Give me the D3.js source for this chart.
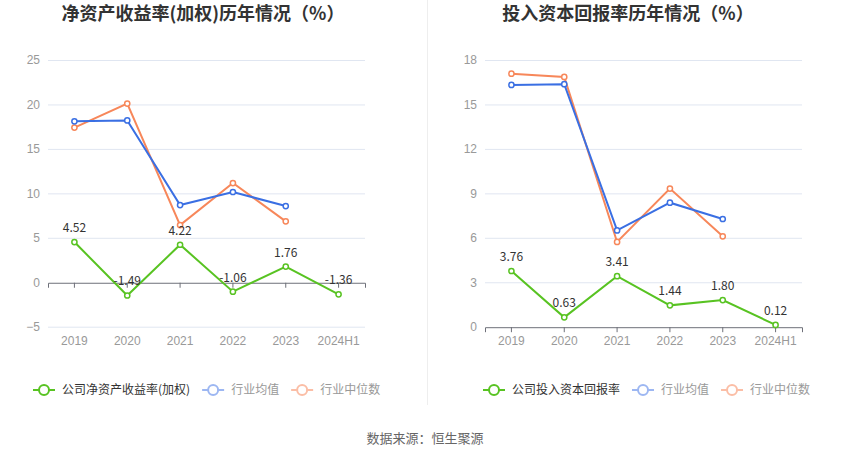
<!DOCTYPE html>
<html>
<head>
<meta charset="utf-8">
<script src="https://cdn.jsdelivr.net/npm/d3@7"></script>
<style>
  body { margin: 0; background: #fff; }
  svg { font-family: "Noto Sans CJK SC", "Noto Sans", sans-serif; }
</style>
</head>
<body>
<div id="chart"></div>
<script>
// categories shared by both panels
const years = ["2019", "2020", "2021", "2022", "2023", "2024H1"];

// left panel: 净资产收益率(加权)
const roeCompany = [4.52, -1.49, 4.22, -1.06, 1.76, -1.36];
const roeAvg = [18.1, 18.2, 8.68, 10.15, 8.57];
const roeMedian = [17.4, 20.1, 6.43, 11.16, 6.85];
const roeTicks = [-5, 0, 5, 10, 15, 20, 25];

// right panel: 投入资本回报率
const roicCompany = [3.76, 0.63, 3.41, 1.44, 1.80, 0.12];
const roicAvg = [16.32, 16.37, 6.5, 8.37, 7.27];
const roicMedian = [17.08, 16.86, 5.72, 9.32, 6.1];
const roicTicks = [0, 3, 6, 9, 12, 15, 18];

const colors = {green: "#58c322", blue: "#3a6fe3", orange: "#f7875a"};
const fadedColors = {blue: "#9db7f2", orange: "#fbbea6"};

const width = 850, height = 459;
const svg = d3.select("#chart").append("svg")
    .attr("width", width)
    .attr("height", height);

// divider between the two panels
svg.append("line")
    .attr("x1", 427.5).attr("x2", 427.5)
    .attr("y1", 0).attr("y2", 405)
    .attr("stroke", "#eeeeee");

// source note
svg.append("text")
    .attr("x", 425).attr("y", 443)
    .attr("text-anchor", "middle")
    .attr("font-size", 13)
    .attr("fill", "#666")
    .text("数据来源：恒生聚源");

function drawPanel(opt) {
    let g = svg.append("g");
    let top = 60, bottom = 326.7;

    let x = d3.scaleBand()
        .domain(years)
        .range([opt.left, opt.right]);

    let y = d3.scaleLinear()
        .domain([opt.ticks[0], opt.ticks[opt.ticks.length - 1]])
        .range([bottom, top]);

    // title
    g.append("text")
        .attr("x", opt.titleX).attr("y", 20)
        .attr("text-anchor", "middle")
        .attr("font-size", 18)
        .attr("font-weight", "bold")
        .attr("fill", "#333")
        .text(opt.title);

    // grid lines
    g.selectAll(".grid")
        .data(opt.ticks.filter(t => t !== 0))
        .enter()
        .append("line")
        .attr("x1", opt.left).attr("x2", opt.right)
        .attr("y1", d => y(d) + 0.5).attr("y2", d => y(d) + 0.5)
        .attr("stroke", "#e0e6f1");

    // y axis labels
    let yAxis = g.append("g")
        .attr("transform", "translate(" + (opt.left - 8) + ",0)")
        .call(d3.axisLeft(y).tickValues(opt.ticks).tickSize(0).tickPadding(0));
    yAxis.select(".domain").remove();
    yAxis.selectAll("text").attr("fill", "#999").attr("font-size", 12)
        .style("font-family", "inherit");

    // zero line with ticks
    let zeroAxis = g.append("g")
        .attr("transform", "translate(0," + (y(0) + 0.5) + ")")
        .call(d3.axisBottom(x).tickSize(5).tickFormat(""));
    zeroAxis.select(".domain").attr("stroke", "#6e7079");
    zeroAxis.selectAll(".tick line").attr("stroke", "#6e7079");

    // x labels at the bottom
    let xAxis = g.append("g")
        .attr("transform", "translate(0," + (bottom + 7) + ")")
        .call(d3.axisBottom(x).tickSize(0).tickPadding(0));
    xAxis.select(".domain").remove();
    xAxis.selectAll("text").attr("fill", "#999").attr("font-size", 12)
        .attr("dy", "0.9em")
        .style("font-family", "inherit");

    let line = d3.line()
        .x((d, i) => x(years[i]) + x.bandwidth() / 2)
        .y(d => y(d));

    let series = [
        {values: opt.median, color: colors.orange},
        {values: opt.avg, color: colors.blue},
        {values: opt.company, color: colors.green, labels: true}
    ];

    series.forEach(s => {
        g.append("path")
            .datum(s.values)
            .attr("d", line)
            .attr("fill", "none")
            .attr("stroke", s.color)
            .attr("stroke-width", 2);

        g.selectAll(null)
            .data(s.values)
            .enter()
            .append("circle")
            .attr("cx", (d, i) => x(years[i]) + x.bandwidth() / 2)
            .attr("cy", d => y(d))
            .attr("r", 2.6)
            .attr("fill", "#fff")
            .attr("stroke", s.color)
            .attr("stroke-width", 1.5);

        if (s.labels) {
            g.selectAll(null)
                .data(s.values)
                .enter()
                .append("text")
                .attr("x", (d, i) => x(years[i]) + x.bandwidth() / 2)
                .attr("y", d => y(d) - 10)
                .attr("text-anchor", "middle")
                .attr("font-size", 12)
                .attr("fill", "#333")
                .text(d => d.toFixed(2));
        }
    });

    // legend
    let legendItems = [
        {name: opt.legendName, color: colors.green, text: "#333"},
        {name: "行业均值", color: fadedColors.blue, text: "#999"},
        {name: "行业中位数", color: fadedColors.orange, text: "#999"}
    ];
    let lx = opt.legendX;
    legendItems.forEach(item => {
        let lg = g.append("g").attr("transform", "translate(" + lx + ",390)");
        lg.append("line")
            .attr("x1", 0).attr("x2", 22)
            .attr("stroke", item.color)
            .attr("stroke-width", 2);
        lg.append("circle")
            .attr("cx", 11).attr("r", 5)
            .attr("fill", "#fff")
            .attr("stroke", item.color)
            .attr("stroke-width", 2);
        let t = lg.append("text")
            .attr("x", 29).attr("dy", "0.35em")
            .attr("font-size", 12)
            .attr("fill", item.text)
            .text(item.name);
        lx += 29 + t.node().getComputedTextLength() + 12;
    });
}

drawPanel({
    title: "净资产收益率(加权)历年情况（%）",
    titleX: 203,
    left: 48, right: 365,
    ticks: roeTicks,
    company: roeCompany, avg: roeAvg, median: roeMedian,
    legendName: "公司净资产收益率(加权)",
    legendX: 33
});

drawPanel({
    title: "投入资本回报率历年情况（%）",
    titleX: 628,
    left: 485, right: 802,
    ticks: roicTicks,
    company: roicCompany, avg: roicAvg, median: roicMedian,
    legendName: "公司投入资本回报率",
    legendX: 483
});
</script>
</body>
</html>
